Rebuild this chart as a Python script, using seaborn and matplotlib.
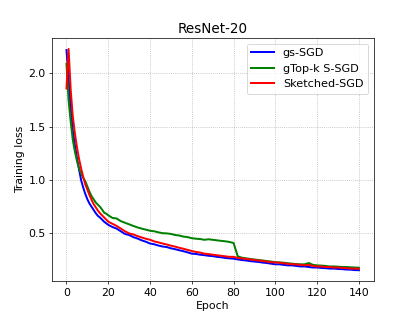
import matplotlib
matplotlib.use("Agg")
import matplotlib.pyplot as plt
import seaborn as sns
import pandas as pd

epochs = list(range(0, 21)) + list(range(22, 141, 2))

gs_sgd = [2.22, 1.95, 1.68, 1.47, 1.33, 1.21, 1.10, 1.00, 0.93, 0.87, 0.82, 0.78, 0.75, 0.72, 0.69,
          0.665, 0.65, 0.63, 0.61, 0.595, 0.58,
          0.56, 0.545, 0.52, 0.495, 0.485, 0.465, 0.452, 0.435, 0.422, 0.405, 0.398, 0.386, 0.377,
          0.372, 0.36, 0.352, 0.342, 0.333, 0.322, 0.31, 0.307, 0.30, 0.296, 0.29, 0.287, 0.28,
          0.276, 0.27, 0.266, 0.263, 0.256, 0.25, 0.246, 0.24, 0.236, 0.232, 0.226, 0.222, 0.216,
          0.21, 0.21, 0.205, 0.2, 0.2, 0.195, 0.19, 0.19, 0.185, 0.18, 0.18, 0.176, 0.174, 0.17,
          0.17, 0.166, 0.165, 0.161, 0.16, 0.156, 0.155]

gtopk_ssgd = [2.09, 1.75, 1.55, 1.38, 1.27, 1.18, 1.11, 1.06, 1.02, 0.99, 0.94, 0.89, 0.85, 0.82,
              0.79, 0.77, 0.75, 0.725, 0.695, 0.685, 0.67,
              0.645, 0.64, 0.615, 0.60, 0.585, 0.57, 0.556, 0.545, 0.535, 0.525, 0.52, 0.51, 0.502,
              0.50, 0.495, 0.485, 0.48, 0.47, 0.465, 0.455, 0.45, 0.447, 0.44, 0.445, 0.44, 0.435,
              0.43, 0.426, 0.42, 0.41, 0.285, 0.272, 0.266, 0.26, 0.255, 0.25, 0.246, 0.24, 0.236,
              0.23, 0.228, 0.225, 0.22, 0.216, 0.212, 0.21, 0.21, 0.222, 0.205, 0.2, 0.198, 0.195,
              0.19, 0.19, 0.188, 0.185, 0.185, 0.182, 0.18, 0.178]

sketched_sgd = [1.86, 2.23, 1.85, 1.60, 1.44, 1.31, 1.20, 1.11, 1.03, 0.96, 0.91, 0.86, 0.815,
                0.775, 0.745, 0.715, 0.69, 0.67, 0.65, 0.63, 0.61,
                0.59, 0.57, 0.545, 0.52, 0.50, 0.49, 0.475, 0.462, 0.45, 0.44, 0.425, 0.416, 0.405,
                0.396, 0.385, 0.376, 0.365, 0.356, 0.345, 0.335, 0.326, 0.32, 0.31, 0.306, 0.30,
                0.295, 0.29, 0.285, 0.28, 0.28, 0.27, 0.266, 0.26, 0.256, 0.25, 0.246, 0.24, 0.236,
                0.23, 0.228, 0.225, 0.22, 0.215, 0.21, 0.21, 0.205, 0.2, 0.205, 0.195, 0.19, 0.19,
                0.185, 0.185, 0.18, 0.18, 0.176, 0.175, 0.17, 0.17, 0.168]

series_names = ["gs-SGD", "gTop-k S-SGD", "Sketched-SGD"]
series_values = [gs_sgd, gtopk_ssgd, sketched_sgd]
colors = ["blue", "green", "red"]

plt.rcParams["font.size"] = 12

fig, ax = plt.subplots(figsize=(415 / 65, 316 / 65), dpi=65)
for name, vals, c in zip(series_names, series_values, colors):
    df = pd.DataFrame({"Epoch": epochs, "loss": vals})
    sns.lineplot(data=df, x="Epoch", y="loss", color=c, label=name, lw=2.2,
                 estimator=None, sort=False, ax=ax)

ax.set_title("ResNet-20", fontsize=15)
ax.set_xlabel("Epoch")
ax.set_ylabel("Training loss")
ax.set_xticks([0, 20, 40, 60, 80, 100, 120, 140])
ax.set_yticks([0.5, 1.0, 1.5, 2.0])
ax.grid(True, linestyle=":", color="#a8a8a8")
ax.legend(loc="upper right", fontsize=12.5)
fig.savefig("out.png", dpi=65)
